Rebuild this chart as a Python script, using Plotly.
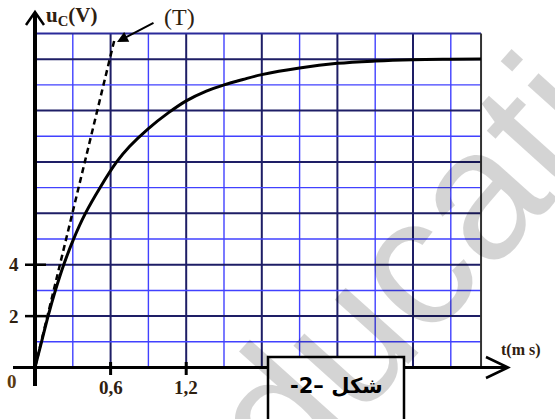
import plotly.graph_objects as go

# ---------------- data ----------------
t_ms = [0, 0.052, 0.104, 0.162, 0.228, 0.306, 0.40, 0.516, 0.648, 0.75, 0.9, 1.06, 1.2, 1.36, 1.5, 1.65, 1.8,
        2.1, 2.4, 2.7, 3.0, 3.3, 3.54]
uc_V = [0, 1, 2, 3, 4, 5, 6, 7, 8, 8.6, 9.3, 9.92, 10.38, 10.76, 11.0, 11.21, 11.4,
        11.66, 11.84, 11.93, 11.98, 12.0, 12.01]

tangent_t = [0, 0.63]
tangent_u = [0, 12.75]

x_tick_vals = [0.6, 1.2]
x_tick_text = ["0,6", "1,2"]
y_tick_vals = [2, 4]
y_tick_text = ["2", "4"]

grid_t_step = 0.3
grid_t_max = 3.54
grid_u_step = 1
grid_u_max = 13

# ---------------- geometry ----------------
W, H = 555, 419
X0, Y0 = 35.0, 367.5          # pixel of origin
PX_T = 126.0                  # px per ms
PX_U = 25.69                  # px per volt

def tx(px):
    return (px - X0) / PX_T

def uy(py):
    return (Y0 - py) / PX_U

x_range = [tx(0), tx(W)]
y_range = [uy(H), uy(0)]

BLUE = "#4141ff"
NAVY = "#1e1e66"
TXT = "#2e2010"

fig = go.Figure()

shapes = []
# vertical grid lines
k = 1
while k * grid_t_step < grid_t_max - 1e-6:
    t = k * grid_t_step
    dark = (k % 2 == 0)
    shapes.append(dict(type="line", x0=t, x1=t, y0=0, y1=grid_u_max,
                       line=dict(color=NAVY if dark else BLUE, width=2 if dark else 1.4),
                       layer="below"))
    k += 1
# horizontal grid lines
for u in range(grid_u_step, grid_u_max, grid_u_step):
    dark = (u % 2 == 0)
    shapes.append(dict(type="line", x0=0, x1=grid_t_max, y0=u, y1=u,
                       line=dict(color=NAVY if dark else BLUE, width=2 if dark else 1.4),
                       layer="below"))
# top border & right border
shapes.append(dict(type="line", x0=0, x1=grid_t_max, y0=grid_u_max, y1=grid_u_max,
                   line=dict(color="#2a2a9a", width=2), layer="below"))
shapes.append(dict(type="line", x0=grid_t_max, x1=grid_t_max, y0=0, y1=grid_u_max,
                   line=dict(color="#333333", width=2), layer="below"))

# axes
shapes.append(dict(type="line", x0=tx(13), x1=tx(507), y0=0, y1=0,
                   line=dict(color="black", width=3)))
shapes.append(dict(type="line", x0=0, x1=0, y0=uy(386), y1=uy(14),
                   line=dict(color="black", width=4)))
# arrowheads (open chevrons)
shapes.append(dict(type="path",
                   path=f"M {tx(486)},{uy(357)} L {tx(508)},{uy(367.5)} L {tx(486)},{uy(378)}",
                   line=dict(color="black", width=2.5)))
shapes.append(dict(type="path",
                   path=f"M {tx(26)},{uy(25)} L {tx(35)},{uy(12)} L {tx(44)},{uy(25)}",
                   line=dict(color="black", width=2.5)))
# ticks
for t in x_tick_vals:
    shapes.append(dict(type="line", x0=t, x1=t, y0=uy(362), y1=uy(375),
                       line=dict(color="black", width=3)))
for u in y_tick_vals:
    shapes.append(dict(type="line", x0=tx(25), x1=tx(46), y0=u, y1=u,
                       line=dict(color="black", width=2.5)))

# caption box
shapes.append(dict(type="rect", xref="paper", yref="paper",
                   x0=268 / W, x1=404 / W, y0=1 - 357 / H, y1=-0.05,
                   fillcolor="white", line=dict(color="black", width=2.5), layer="above"))

# curve
fig.add_trace(go.Scatter(x=t_ms, y=uc_V, mode="lines",
                         line=dict(color="black", width=3, shape="spline", smoothing=1.0),
                         hoverinfo="skip", showlegend=False))
# tangent
fig.add_trace(go.Scatter(x=tangent_t, y=tangent_u, mode="lines",
                         line=dict(color="black", width=2.5, dash="6px,4px"),
                         hoverinfo="skip", showlegend=False))

ann = []
serif = "Liberation Serif"
for t, s in zip(x_tick_vals, x_tick_text):
    ann.append(dict(x=t, y=0, text=f"<b>{s}</b>", showarrow=False, yshift=-20,
                    xanchor="center", yanchor="middle",
                    font=dict(family=serif, size=19, color=TXT)))
for u, s in zip(y_tick_vals, y_tick_text):
    ann.append(dict(x=0, y=u, text=f"<b>{s}</b>", showarrow=False, xshift=-21,
                    xanchor="center", yanchor="middle",
                    font=dict(family=serif, size=19, color=TXT)))
ann.append(dict(x=tx(12), y=uy(381), text="<b>0</b>", showarrow=False,
                xanchor="center", yanchor="middle",
                font=dict(family=serif, size=19, color="#5a3a10")))
# axis titles
ann.append(dict(x=44 / W, y=1 - 16 / H, xref="paper", yref="paper",
                xanchor="left", yanchor="middle",
                text="<b>u<sub>C</sub>(V)</b>", showarrow=False,
                font=dict(family=serif, size=21, color=TXT)))
ann.append(dict(x=499 / W, y=1 - 350 / H, xref="paper", yref="paper",
                xanchor="left", yanchor="middle",
                text="<b>t(m s)</b>", showarrow=False,
                font=dict(family=serif, size=16, color=TXT)))
# (T) label with arrow
ann.append(dict(x=tx(117), y=uy(42), ax=38, ay=-20, text="", showarrow=True,
                arrowhead=2, arrowsize=1.1, arrowwidth=2, arrowcolor="black"))
ann.append(dict(x=179 / W, y=1 - 17 / H, xref="paper", yref="paper",
                xanchor="center", yanchor="middle",
                text="(T)", showarrow=False,
                font=dict(family=serif, size=24, color=TXT)))
# caption  (visual order: "-2–" then the Arabic word)
ann.append(dict(x=336 / W, y=1 - 386 / H, xref="paper", yref="paper",
                xanchor="center", yanchor="middle",
                text="<b>\u202a\u200e-2\u2013\u200e شكل\u202c</b>", showarrow=False,
                font=dict(family="DejaVu Sans", size=21, color="black")))
# watermark
ann.append(dict(x=441 / W, y=1 - 232 / H, xref="paper", yref="paper",
                xanchor="center", yanchor="middle",
                text="education", showarrow=False, textangle=-48,
                font=dict(family="Liberation Sans", size=185, color="rgba(0,0,0,0.17)")))

fig.update_layout(
    width=W, height=H,
    margin=dict(l=0, r=0, t=0, b=0),
    paper_bgcolor="white", plot_bgcolor="white",
    xaxis=dict(range=x_range, visible=False, fixedrange=True),
    yaxis=dict(range=y_range, visible=False, fixedrange=True),
    shapes=shapes, annotations=ann, showlegend=False,
)

fig.write_html("out.html", config={"displayModeBar": False},
               post_script="document.body.style.margin='0';document.body.style.overflow='hidden';")
